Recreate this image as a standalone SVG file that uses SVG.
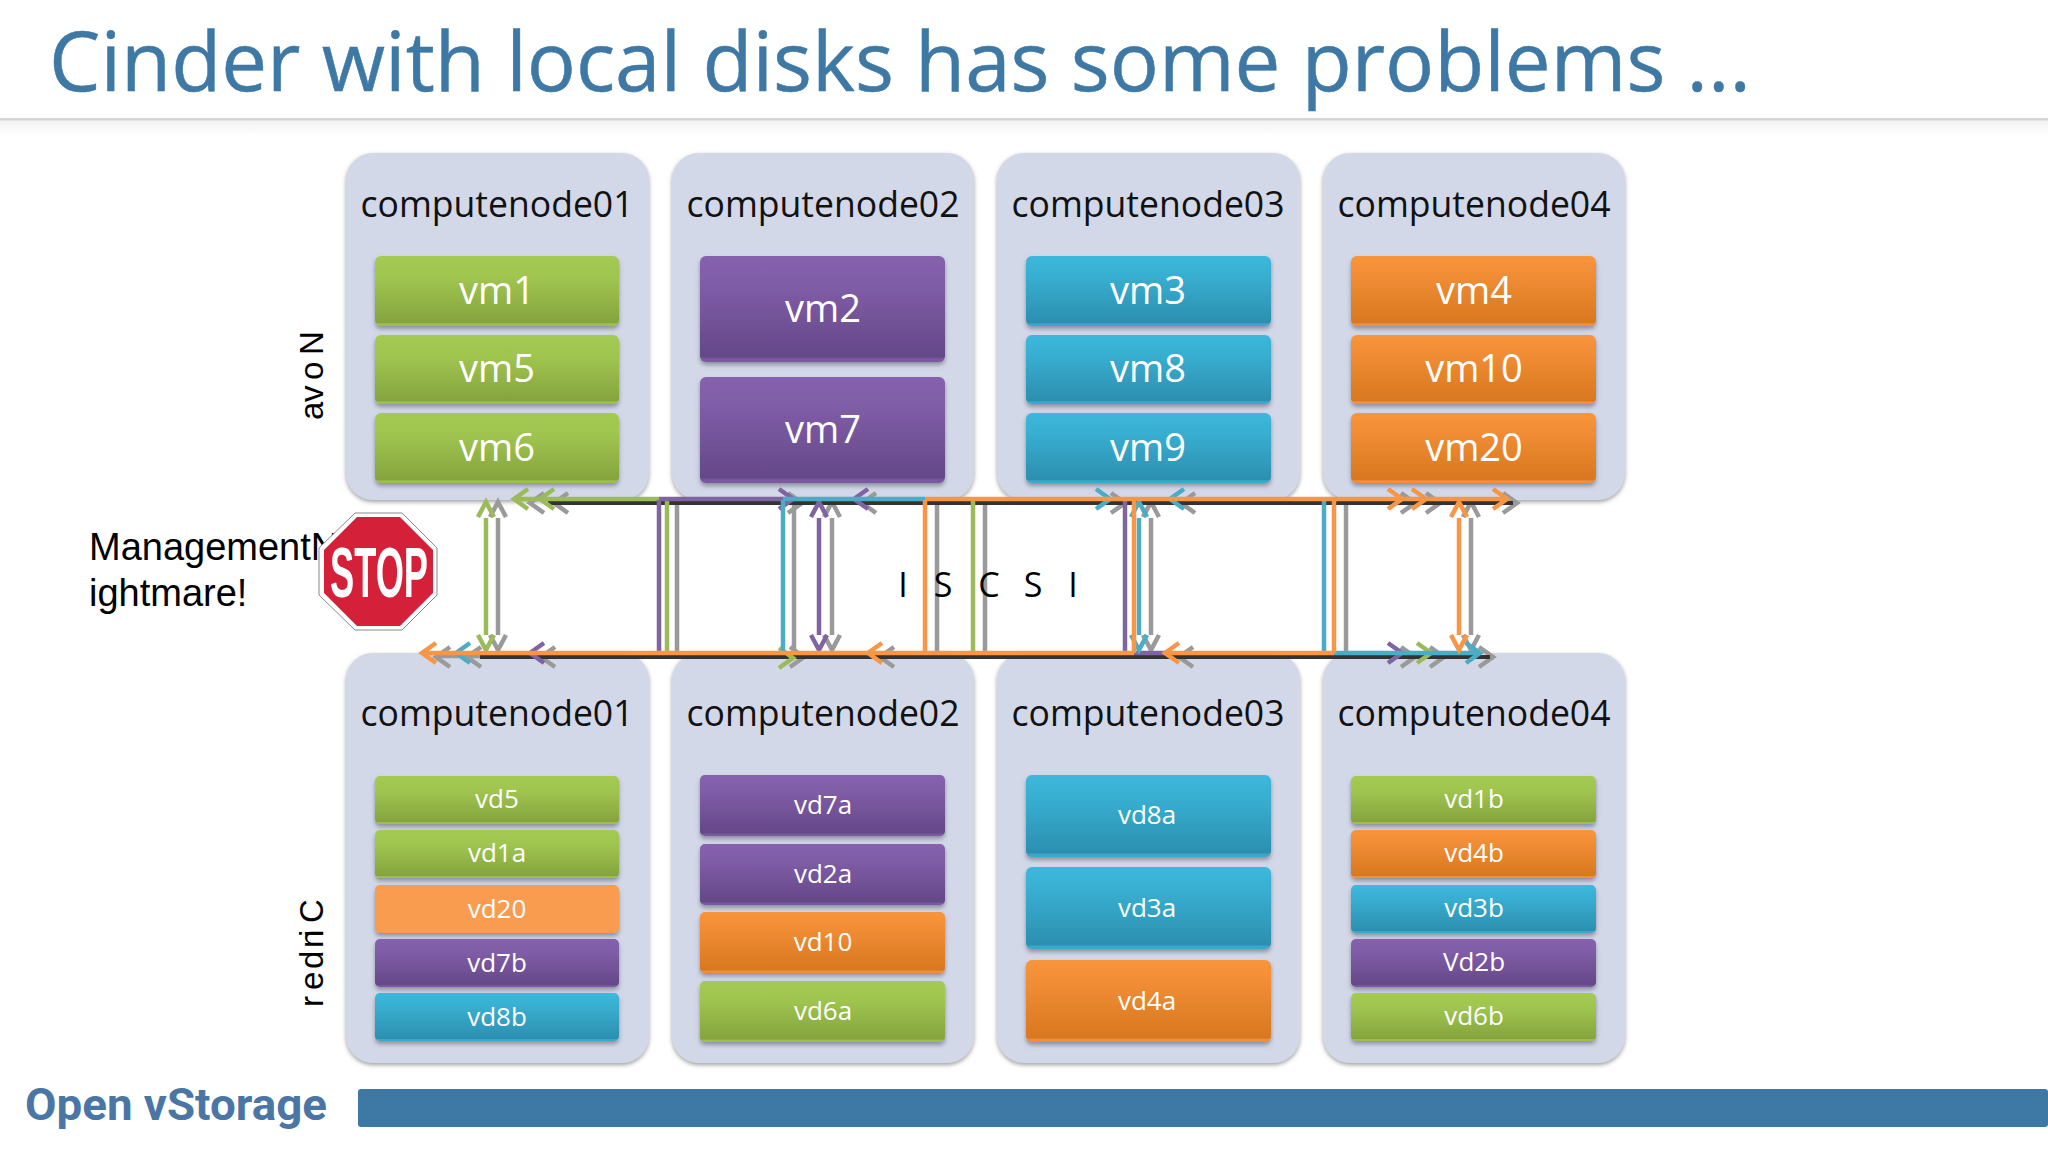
<svg xmlns="http://www.w3.org/2000/svg" width="2048" height="1152" viewBox="0 0 2048 1152">
<style>
.panel{fill:#d2d8e8;filter:url(#ps)}
.box{filter:url(#bs)}
.g{fill:url(#gG)}.p{fill:url(#gP)}.t{fill:url(#gT)}.o{fill:url(#gO)}.lo{fill:#f99c50}
.lbl{font-family:"Open Sans",sans-serif;font-size:37px;fill:#111;text-anchor:middle}
.vm{font-family:"Open Sans",sans-serif;font-size:38px;fill:#fff;text-anchor:middle}
.vd{font-family:"Open Sans",sans-serif;font-size:26px;fill:#fff;text-anchor:middle}
.arial{font-family:"Liberation Sans",Arial,sans-serif;fill:#000}
.c{fill:none;stroke-width:4.5}
.cG{stroke:#9bbb59}.cP{stroke:#8064a2}.cT{stroke:#4bacc6}.cO{stroke:#f79646}.cA{stroke:#9a9a9a}.cK{stroke:#333;stroke-width:4}
</style>
<defs>
<filter id="ps" x="-5%" y="-5%" width="110%" height="110%"><feDropShadow dx="0" dy="2" stdDeviation="2" flood-color="#777" flood-opacity=".7"/></filter>
<filter id="bs" x="-5%" y="-10%" width="110%" height="125%"><feDropShadow dx="0" dy="3" stdDeviation="2" flood-color="#556" flood-opacity=".55"/></filter>
<linearGradient id="gG" x1="0" y1="0" x2="0" y2="1"><stop offset="0" stop-color="#a4ca52"/><stop offset=".3" stop-color="#a0c550"/><stop offset=".95" stop-color="#85a43d"/><stop offset=".97" stop-color="#9cc04a"/></linearGradient>
<linearGradient id="gP" x1="0" y1="0" x2="0" y2="1"><stop offset="0" stop-color="#8662ae"/><stop offset=".3" stop-color="#7f5ca6"/><stop offset=".95" stop-color="#644888"/><stop offset=".97" stop-color="#7b58a2"/></linearGradient>
<linearGradient id="gT" x1="0" y1="0" x2="0" y2="1"><stop offset="0" stop-color="#3cb8dc"/><stop offset=".3" stop-color="#38aed0"/><stop offset=".95" stop-color="#2c8fb0"/><stop offset=".97" stop-color="#38a9cc"/></linearGradient>
<linearGradient id="gO" x1="0" y1="0" x2="0" y2="1"><stop offset="0" stop-color="#f8953c"/><stop offset=".3" stop-color="#f08c34"/><stop offset=".95" stop-color="#d87820"/><stop offset=".97" stop-color="#f09038"/></linearGradient>
<linearGradient id="hd" x1="0" y1="0" x2="0" y2="1"><stop offset="0" stop-color="#f2f2f3"/><stop offset="1" stop-color="#fff"/></linearGradient>
<path id="cl" d="M14 -10L0 0L14 10"/>
<path id="cr" d="M-14 -10L0 0L-14 10"/>
<path id="cu" d="M-8 15L0 0L8 15"/>
<path id="cd" d="M-8 -15L0 0L8 -15"/>
</defs>
<rect width="2048" height="1152" fill="#fff"/>
<g id="header">
<rect x="0" y="120" width="2048" height="16" fill="url(#hd)"/>
<rect x="0" y="118" width="2048" height="2.5" fill="#d4d4d6"/>
<text x="49" y="91" font-family="'Open Sans',sans-serif" font-size="82" fill="#3e78a5" stroke="#3e78a5" stroke-width=".5" textLength="1702" lengthAdjust="spacingAndGlyphs">Cinder with local disks has some problems ...</text>
</g>
<g id="side-labels">
<text class="arial" font-size="33" transform="translate(323,420) rotate(-90)" x="0 18 40 65">avoN</text>
<text class="arial" font-size="33" transform="translate(323,1007) rotate(-90)" x="0 17 38 59 70 76 84">redni C</text>
<text class="arial" font-size="38"><tspan x="89" y="560">ManagementN</tspan><tspan x="89" y="606">ightmare!</tspan></text>
</g>
<g id="nova-node1"><rect class="panel" x="346" y="153" width="303" height="347" rx="27"/><text class="lbl" x="497" y="217" textLength="273" lengthAdjust="spacingAndGlyphs">computenode01</text>
<rect class="box g" x="375" y="256" width="244" height="70" rx="6"/><text class="vm" x="497" y="304">vm1</text>
<rect class="box g" x="375" y="335" width="244" height="69" rx="6"/><text class="vm" x="497" y="382">vm5</text>
<rect class="box g" x="375" y="413" width="244" height="70" rx="6"/><text class="vm" x="497" y="461">vm6</text></g>
<g id="nova-node2"><rect class="panel" x="672" y="153" width="302" height="347" rx="27"/><text class="lbl" x="823" y="217" textLength="273" lengthAdjust="spacingAndGlyphs">computenode02</text>
<rect class="box p" x="700" y="256" width="245" height="106" rx="6"/><text class="vm" x="823" y="322">vm2</text>
<rect class="box p" x="700" y="377" width="245" height="106" rx="6"/><text class="vm" x="823" y="443">vm7</text></g>
<g id="nova-node3"><rect class="panel" x="997" y="153" width="303" height="347" rx="27"/><text class="lbl" x="1148" y="217" textLength="273" lengthAdjust="spacingAndGlyphs">computenode03</text>
<rect class="box t" x="1026" y="256" width="245" height="70" rx="6"/><text class="vm" x="1148" y="304">vm3</text>
<rect class="box t" x="1026" y="335" width="245" height="69" rx="6"/><text class="vm" x="1148" y="382">vm8</text>
<rect class="box t" x="1026" y="413" width="245" height="70" rx="6"/><text class="vm" x="1148" y="461">vm9</text></g>
<g id="nova-node4"><rect class="panel" x="1323" y="153" width="302" height="347" rx="27"/><text class="lbl" x="1474" y="217" textLength="273" lengthAdjust="spacingAndGlyphs">computenode04</text>
<rect class="box o" x="1351" y="256" width="245" height="70" rx="6"/><text class="vm" x="1474" y="304">vm4</text>
<rect class="box o" x="1351" y="335" width="245" height="69" rx="6"/><text class="vm" x="1474" y="382">vm10</text>
<rect class="box o" x="1351" y="413" width="245" height="70" rx="6"/><text class="vm" x="1474" y="461">vm20</text></g>
<g id="cinder-node1"><rect class="panel" x="346" y="653" width="303" height="410" rx="27"/><text class="lbl" x="497" y="726" textLength="273" lengthAdjust="spacingAndGlyphs">computenode01</text>
<rect class="box g" x="375" y="776" width="244" height="48" rx="5"/><text class="vd" x="497" y="808">vd5</text>
<rect class="box g" x="375" y="830" width="244" height="48" rx="5"/><text class="vd" x="497" y="862">vd1a</text>
<rect class="box lo" x="375" y="885" width="244" height="48" rx="5"/><text class="vd" x="497" y="918">vd20</text>
<rect class="box p" x="375" y="939" width="244" height="48" rx="5"/><text class="vd" x="497" y="972">vd7b</text>
<rect class="box t" x="375" y="993" width="244" height="48" rx="5"/><text class="vd" x="497" y="1026">vd8b</text></g>
<g id="cinder-node2"><rect class="panel" x="672" y="653" width="302" height="410" rx="27"/><text class="lbl" x="823" y="726" textLength="273" lengthAdjust="spacingAndGlyphs">computenode02</text>
<rect class="box p" x="700" y="775" width="245" height="61" rx="5"/><text class="vd" x="823" y="814">vd7a</text>
<rect class="box p" x="700" y="844" width="245" height="61" rx="5"/><text class="vd" x="823" y="883">vd2a</text>
<rect class="box o" x="700" y="912" width="245" height="61" rx="5"/><text class="vd" x="823" y="951">vd10</text>
<rect class="box g" x="700" y="981" width="245" height="61" rx="5"/><text class="vd" x="823" y="1020">vd6a</text></g>
<g id="cinder-node3"><rect class="panel" x="997" y="653" width="303" height="410" rx="27"/><text class="lbl" x="1148" y="726" textLength="273" lengthAdjust="spacingAndGlyphs">computenode03</text>
<rect class="box t" x="1026" y="775" width="245" height="82" rx="6"/><text class="vd" x="1147" y="824">vd8a</text>
<rect class="box t" x="1026" y="867" width="245" height="82" rx="6"/><text class="vd" x="1147" y="917">vd3a</text>
<rect class="box o" x="1026" y="960" width="245" height="82" rx="6"/><text class="vd" x="1147" y="1010">vd4a</text></g>
<g id="cinder-node4"><rect class="panel" x="1323" y="653" width="302" height="410" rx="27"/><text class="lbl" x="1474" y="726" textLength="273" lengthAdjust="spacingAndGlyphs">computenode04</text>
<rect class="box g" x="1351" y="776" width="245" height="48" rx="5"/><text class="vd" x="1474" y="808">vd1b</text>
<rect class="box o" x="1351" y="830" width="245" height="48" rx="5"/><text class="vd" x="1474" y="862">vd4b</text>
<rect class="box t" x="1351" y="885" width="245" height="48" rx="5"/><text class="vd" x="1474" y="917">vd3b</text>
<rect class="box p" x="1351" y="939" width="245" height="48" rx="5"/><text class="vd" x="1474" y="971">Vd2b</text>
<rect class="box g" x="1351" y="993" width="245" height="48" rx="5"/><text class="vd" x="1474" y="1025">vd6b</text></g>
<g id="connectors" class="c">
<g class="cA">
<path d="M677 500V653M794 500V653M937 500V653M985 500V653M1346 500V653M498 518V635M832 518V635M1151 518V635M1471 518V635M436 656H480"/>
<use href="#cu" x="498" y="502"/><use href="#cd" x="498" y="650"/><use href="#cu" x="832" y="502"/><use href="#cd" x="832" y="650"/><use href="#cu" x="1151" y="502"/><use href="#cd" x="1151" y="650"/><use href="#cu" x="1471" y="502"/><use href="#cd" x="1471" y="650"/>
<use href="#cl" x="530" y="503"/><use href="#cl" x="554" y="503"/><use href="#cl" x="862" y="503"/><use href="#cr" x="802" y="503"/><use href="#cr" x="1125" y="503"/><use href="#cl" x="1181" y="503"/><use href="#cr" x="1415" y="503"/><use href="#cr" x="1440" y="503"/><use href="#cr" x="1517" y="503"/>
<use href="#cl" x="436" y="657"/><use href="#cl" x="467" y="657"/><use href="#cl" x="541" y="657"/><use href="#cr" x="804" y="657"/><use href="#cl" x="880" y="657"/><use href="#cl" x="1179" y="657"/><use href="#cr" x="1415" y="657"/><use href="#cr" x="1444" y="657"/><use href="#cr" x="1493" y="657"/>
</g>
<path class="cK" d="M548 503H1513M480 657H1490"/>
<g class="cG">
<path d="M514 499H659M667 500V653M973 500V653M486 518V635"/>
<use href="#cu" x="486" y="502"/><use href="#cd" x="486" y="650"/><use href="#cl" x="514" y="499"/><use href="#cl" x="540" y="499"/><use href="#cr" x="793" y="658"/><use href="#cr" x="1431" y="653"/>
</g>
<g class="cP">
<path d="M659 499H790M659 500V653M1125 500V653M819 518V635M1134 653H1165"/>
<use href="#cu" x="819" y="502"/><use href="#cd" x="819" y="650"/><use href="#cl" x="854" y="499"/><use href="#cr" x="793" y="499"/><use href="#cl" x="530" y="653"/><use href="#cr" x="1402" y="653"/>
</g>
<g class="cT">
<path d="M783 499H925M783 500V653M1324 500V653M1139 518V635M1334 653H1478"/>
<use href="#cu" x="1139" y="502"/><use href="#cd" x="1139" y="650"/><use href="#cr" x="1110" y="499"/><use href="#cl" x="1170" y="499"/><use href="#cl" x="456" y="653"/><use href="#cr" x="1480" y="653"/>
</g>
<g class="cO">
<path d="M925 499H1505M925 500V653M1134 500V653M1334 500V653M1459 518V635M422 653H1134M1165 653H1334"/>
<use href="#cu" x="1459" y="502"/><use href="#cd" x="1459" y="650"/><use href="#cr" x="1402" y="499"/><use href="#cr" x="1426" y="499"/><use href="#cr" x="1507" y="499"/><use href="#cl" x="422" y="653"/><use href="#cl" x="868" y="653"/><use href="#cl" x="1165" y="653"/>
</g>
</g>
<g id="iscsi-label"><text font-family="'Open Sans',sans-serif" font-size="34" fill="#000" text-anchor="middle" x="903 943 989 1033 1073" y="597">ISCSI</text></g>
<g id="stop-sign">
<polygon points="355,513 402,513 437,548 437,595 402,630 355,630 319,595 319,548" fill="#fff" stroke="#888" stroke-width="1"/>
<polygon points="357,517 400,517 433,550 433,593 400,626 357,626 324,593 324,550" fill="#d42038"/>
<text x="330" y="597" font-family="'Liberation Sans',Arial,sans-serif" font-weight="bold" font-size="71" fill="#fff" textLength="98" lengthAdjust="spacingAndGlyphs">STOP</text>
</g>
<g id="footer">
<rect x="358" y="1089" width="1690" height="38" rx="3" fill="#3e78a5"/>
<text x="25" y="1120" font-family="Roboto,sans-serif" font-weight="700" font-size="44" fill="#4a76a6" textLength="302" lengthAdjust="spacingAndGlyphs">Open vStorage</text>
</g>
</svg>
